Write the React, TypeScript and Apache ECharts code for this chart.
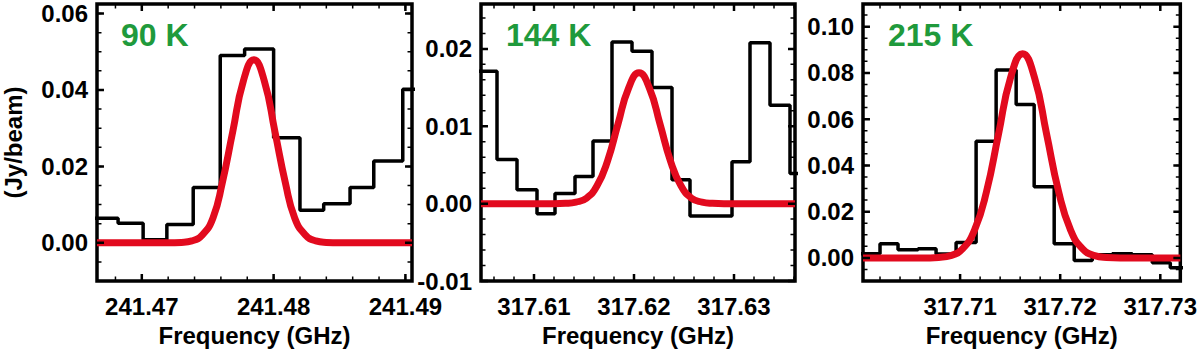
import React, { useEffect, useRef } from "react";
import * as echarts from "echarts";

const FONT = '"Liberation Sans", Arial, Helvetica, sans-serif';
const RED = "#e20a1e";
const GREEN = "#1f9a3c";

// ---------- Panel 1 : 90 K ----------
const p1Label = "90 K";
const p1Edges = [241.4662, 241.4682, 241.4701, 241.4719, 241.4739, 241.47595, 241.4778, 241.48, 241.482, 241.4838, 241.4858, 241.4876, 241.4898, 241.4917];
const p1Flux = [0.0064, 0.0051, 0.0008, 0.0048, 0.0145, 0.049, 0.0507, 0.0275, 0.0085, 0.0102, 0.0145, 0.0214, 0.0402];
const p1FitFreq = [241.4666, 241.472, 241.473, 241.4738, 241.4746, 241.4754, 241.4761, 241.4769, 241.4777, 241.4785, 241.4793, 241.4801, 241.4809, 241.4816, 241.4824, 241.4832, 241.484, 241.485, 241.4905];
const p1FitFlux = [0, 0, 0.0001, 0.0005, 0.0021, 0.0065, 0.0156, 0.0291, 0.0423, 0.0479, 0.0423, 0.0291, 0.0156, 0.0065, 0.0021, 0.0005, 0.0001, 0, 0];
const p1XRange = [241.4666, 241.4905];
const p1YRange = [-0.01, 0.0625];
const p1XTicks = [241.47, 241.48, 241.49];
const p1YTicks = [0.0, 0.02, 0.04, 0.06];

// ---------- Panel 2 : 144 K ----------
const p2Label = "144 K";
const p2Edges = [317.6043, 317.6063, 317.6083, 317.6103, 317.6121, 317.6141, 317.6159, 317.6178, 317.6198, 317.6218, 317.6238, 317.6256, 317.6276, 317.6298, 317.6316, 317.6336, 317.6356, 317.6375];
const p2Flux = [0.0171, 0.0057, 0.0018, -0.0013, 0.0013, 0.0035, 0.0081, 0.0209, 0.0197, 0.015, 0.0031, -0.0016, -0.0016, 0.0054, 0.0208, 0.0127, 0.0039];
const p2FitFreq = [317.6047, 317.612, 317.61315, 317.6142, 317.61525, 317.6163, 317.61735, 317.6184, 317.61945, 317.6205, 317.62155, 317.6226, 317.62365, 317.6247, 317.62575, 317.6268, 317.62785, 317.629, 317.6361];
const p2FitFlux = [0, 0, 0.00004, 0.0002, 0.0007, 0.0023, 0.0055, 0.0103, 0.0149, 0.0169, 0.0149, 0.0103, 0.0055, 0.0023, 0.0007, 0.0002, 0.00004, 0, 0];
const p2XRange = [317.6047, 317.6361];
const p2YRange = [-0.01, 0.0258];
const p2XTicks = [317.61, 317.62, 317.63];
const p2YTicks = [-0.01, 0.0, 0.01, 0.02];

// ---------- Panel 3 : 215 K ----------
const p3Label = "215 K";
const p3Edges = [317.7, 317.702, 317.7038, 317.7058, 317.7076, 317.7096, 317.7116, 317.7136, 317.7156, 317.7174, 317.7194, 317.7214, 317.7232, 317.7252, 317.7272, 317.7292, 317.731, 317.733];
const p3Flux = [0.0018, 0.0061, 0.0035, 0.004, 0.0017, 0.0067, 0.0504, 0.0813, 0.0663, 0.0308, 0.0061, -0.0011, 0.0014, 0.0018, 0.0014, -0.0021, -0.0043];
const p3FitFreq = [317.7003, 317.707, 317.70784, 317.70904, 317.71024, 317.71144, 317.71264, 317.71384, 317.71504, 317.71624, 317.71744, 317.71864, 317.71984, 317.72104, 317.72224, 317.72344, 317.72464, 317.726, 317.732];
const p3FitFlux = [0, 0, 0.0002, 0.001, 0.0039, 0.012, 0.0287, 0.0536, 0.0779, 0.0883, 0.0779, 0.0536, 0.0287, 0.012, 0.0039, 0.001, 0.0002, 0, 0];
const p3XRange = [317.7003, 317.732];
const p3YRange = [-0.01, 0.1098];
const p3XTicks = [317.71, 317.72, 317.73];
const p3YTicks = [0.0, 0.02, 0.04, 0.06, 0.08, 0.1];

// minor tick steps
const xMinorStep = [0.002, 0.002, 0.002];
const yMinorStep = [0.005, 0.002, 0.005];

// layout (pixels)
const GRID_LEFT = [96, 481, 863];
const GRID_WIDTH = [316, 314, 318.5];
const GRID_TOP = 4;
const GRID_HEIGHT = 281.5;
const FRAME_W = 3.5;
const MAJOR_LEN = 7;
const MINOR_LEN = 4.5;

function minorValues(range: number[], step: number): number[] {
  const out: number[] = [];
  let k = Math.ceil(range[0] / step - 1e-9);
  while (k * step <= range[1] + 1e-12) {
    out.push(+(k * step).toFixed(6));
    k++;
  }
  return out;
}

const panels = [
  { label: p1Label, edges: p1Edges, flux: p1Flux, fitF: p1FitFreq, fitY: p1FitFlux, xr: p1XRange, yr: p1YRange, xt: p1XTicks, yt: p1YTicks },
  { label: p2Label, edges: p2Edges, flux: p2Flux, fitF: p2FitFreq, fitY: p2FitFlux, xr: p2XRange, yr: p2YRange, xt: p2XTicks, yt: p2YTicks },
  { label: p3Label, edges: p3Edges, flux: p3Flux, fitF: p3FitFreq, fitY: p3FitFlux, xr: p3XRange, yr: p3YRange, xt: p3XTicks, yt: p3YTicks },
];

function buildOption() {
  const grid: any[] = [];
  const xAxis: any[] = [];
  const yAxis: any[] = [];
  const series: any[] = [];
  const title: any[] = [];
  const labelStyle = { fontSize: 24, fontWeight: "bold", color: "#000", fontFamily: FONT };

  panels.forEach((p, i) => {
    grid.push({
      left: GRID_LEFT[i], top: GRID_TOP, width: GRID_WIDTH[i], height: GRID_HEIGHT,
      show: true, borderColor: "#000", borderWidth: FRAME_W, backgroundColor: "transparent",
    });
    xAxis.push({
      type: "value", gridIndex: i, min: p.xr[0], max: p.xr[1], position: "bottom",
      axisLine: { show: false, onZero: false }, splitLine: { show: false }, axisTick: { show: false },
      axisLabel: { show: true, customValues: p.xt, formatter: (v: number) => v.toFixed(2), margin: 13, ...labelStyle },
      name: "Frequency (GHz)", nameLocation: "middle", nameGap: 42, nameTextStyle: labelStyle,
    });
    yAxis.push({
      type: "value", gridIndex: i, min: p.yr[0], max: p.yr[1], position: "left",
      axisLine: { show: false, onZero: false }, splitLine: { show: false }, axisTick: { show: false },
      axisLabel: { show: true, customValues: p.yt, formatter: (v: number) => v.toFixed(2), margin: 9, ...labelStyle },
      ...(i === 0 ? { name: "(Jy/beam)", nameLocation: "middle", nameGap: 72, nameRotate: 90, nameTextStyle: labelStyle } : {}),
    });

    // tick marks on all four sides, as broken line segments in data coordinates
    const [x0, x1] = p.xr;
    const [y0, y1] = p.yr;
    const dyPerPx = (y1 - y0) / GRID_HEIGHT;
    const dxPerPx = (x1 - x0) / GRID_WIDTH[i];
    const segs: { major: any[]; minor: any[] } = { major: [], minor: [] };
    const gap = [NaN, NaN];
    const addX = (v: number, major: boolean) => {
      const len = (major ? MAJOR_LEN : MINOR_LEN) * dyPerPx;
      const arr = major ? segs.major : segs.minor;
      arr.push([v, y0], [v, y0 + len], gap, [v, y1], [v, y1 - len], gap);
    };
    const addY = (v: number, major: boolean) => {
      const len = (major ? MAJOR_LEN : MINOR_LEN) * dxPerPx;
      const arr = major ? segs.major : segs.minor;
      arr.push([x0, v], [x0 + len, v], gap, [x1, v], [x1 - len, v], gap);
    };
    minorValues(p.xr, xMinorStep[i]).forEach((v) => addX(v, false));
    p.xt.forEach((v) => addX(v, true));
    minorValues(p.yr, yMinorStep[i]).forEach((v) => addY(v, false));
    p.yt.forEach((v) => addY(v, true));
    (["minor", "major"] as const).forEach((kind) => {
      series.push({
        type: "line", xAxisIndex: i, yAxisIndex: i, showSymbol: false, symbol: "none", silent: true,
        connectNulls: false, clip: false, z: 4, data: segs[kind],
        lineStyle: { color: "#000", width: kind === "major" ? 2.5 : 1.5, cap: "butt" },
      });
    });

    const histData = p.edges.map((e, k) => [e, p.flux[Math.min(k, p.flux.length - 1)]]);
    series.push({
      type: "line", xAxisIndex: i, yAxisIndex: i, step: "end", showSymbol: false, symbol: "none",
      data: histData, lineStyle: { color: "#000", width: 3.5 }, clip: true, z: 2,
    });
    series.push({
      type: "line", xAxisIndex: i, yAxisIndex: i, smooth: 0.5, showSymbol: false, symbol: "none",
      data: p.fitF.map((f, k) => [f, p.fitY[k]]), lineStyle: { color: RED, width: 7 }, clip: true, z: 3,
    });
    title.push({
      text: p.label, left: GRID_LEFT[i] + 25, top: 19, padding: 0,
      textStyle: { fontSize: 32, fontWeight: "bold", color: GREEN, fontFamily: FONT },
    });
  });

  return { animation: false, backgroundColor: "#fff", title, grid, xAxis, yAxis, series };
}

export default function App() {
  const ref = useRef<HTMLDivElement>(null);
  useEffect(() => {
    if (!ref.current) return;
    const chart = echarts.init(ref.current, undefined, { renderer: "svg" });
    chart.setOption(buildOption() as any);
    return () => chart.dispose();
  }, []);
  return <div ref={ref} style={{ position: "absolute", left: 0, top: 0, width: 1200, height: 352 }} />;
}
